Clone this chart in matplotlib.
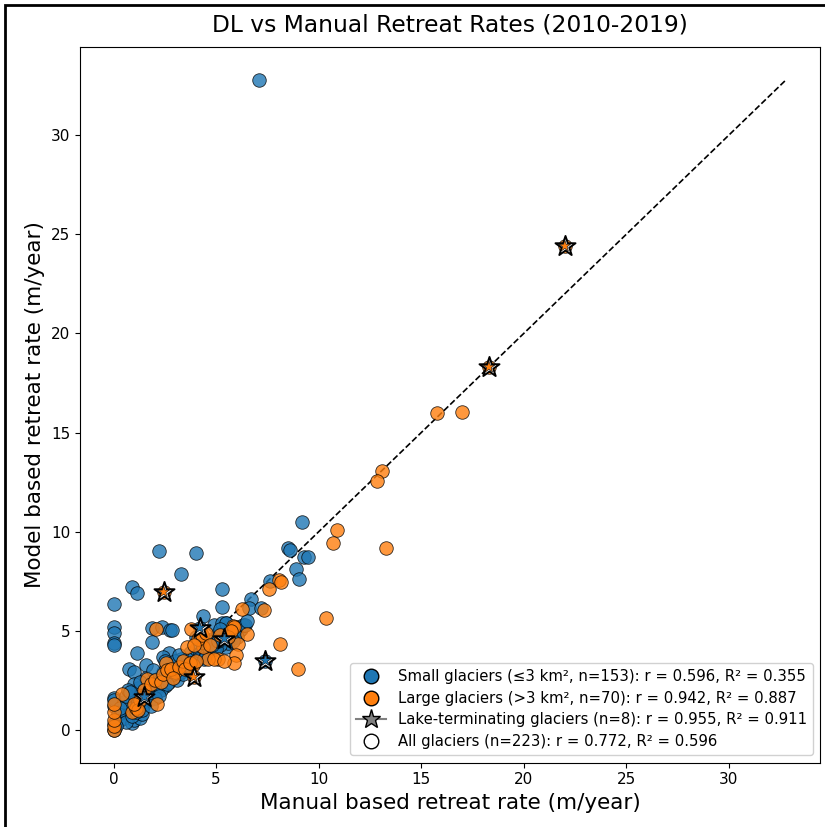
import matplotlib
matplotlib.use("Agg")
import matplotlib.pyplot as plt
from matplotlib.lines import Line2D
from matplotlib.patches import Rectangle
import numpy as np

# ---- Data ----
small_x = [7.07, 9.17, 8.5, 8.6, 9.3, 9.5, 8.9, 9.05, 2.2, 4.0, 3.27, 0.88, 1.12, 0.0, 5.27, 5.27,
           7.6, 6.7, 6.6, 7.2, 0.0, 0.0, 0.0, 0.0, 1.85, 2.35, 2.73, 2.83, 1.85, 1.12, 0.73, 0.98,
           1.56, 2.68, 2.4, 4.35, 5.46, 5.5, 0.0, 0.0, 0.0, 0.0, 0.0, 0.3, 0.5, 0.6, 0.88, 1.0,
           1.27, 1.4, 0.7, 0.9, 1.1, 1.2, 1.5, 1.6, 1.8, 2.0, 2.1, 1.9, 2.2, 2.5, 2.6, 2.8,
           3.0, 2.9, 3.2, 3.4, 3.3, 3.6, 3.7, 3.9, 4.0, 4.2, 4.4, 4.6, 4.8, 5.0, 5.1, 5.3,
           5.5, 5.6, 5.8, 6.0, 6.1, 4.9, 5.3, 5.5, 1.5, 4.2, 5.4, 7.4, 0.2, 0.4, 0.6, 0.8,
           1.3, 1.7, 2.3, 2.7, 3.1, 3.5, 3.8, 4.1, 4.5, 4.7, 5.2, 5.7, 6.2, 6.3, 0.5, 0.9,
           1.0, 1.4, 1.6, 2.0, 2.4, 2.9, 3.3, 3.6, 4.3, 4.9, 5.9, 6.4, 0.1, 0.3, 0.6, 1.2,
           1.8, 2.6, 3.0, 3.4, 3.9, 4.6, 5.0, 5.6, 6.0, 0.7, 1.1, 1.3, 2.2, 2.5, 3.7, 4.4,
           4.8, 5.2, 5.8, 0.8, 1.9, 3.2, 4.0, 5.1, 6.5]
small_y = [32.8, 10.5, 9.2, 9.1, 8.7, 8.7, 8.1, 7.6, 9.0, 8.9, 7.85, 7.2, 6.9, 6.35, 7.1, 6.2,
           7.5, 6.6, 6.15, 6.15, 5.2, 4.9, 4.4, 4.3, 5.15, 5.2, 5.04, 5.02, 4.45, 3.9, 3.1, 2.9,
           3.3, 3.9, 3.7, 5.75, 5.4, 4.2, 0.0, 0.3, 1.2, 1.6, 1.5, 0.5, 0.6, 0.9, 0.35, 0.5,
           0.6, 0.8, 1.3, 1.6, 1.8, 2.1, 1.3, 1.8, 2.0, 1.9, 2.2, 2.5, 2.6, 2.2, 2.6, 2.9,
           2.7, 3.2, 3.0, 3.3, 3.6, 3.5, 3.9, 3.7, 4.1, 3.9, 4.4, 4.2, 4.6, 4.5, 4.9, 4.7,
           5.0, 4.4, 4.9, 5.2, 5.0, 5.3, 5.4, 5.4, 1.66, 5.15, 4.6, 3.5, 0.8, 1.0, 0.4, 1.1,
           1.2, 1.5, 2.0, 2.4, 2.5, 3.0, 3.4, 3.6, 3.8, 4.0, 4.3, 4.6, 5.1, 5.3, 1.4, 0.7,
           2.3, 1.0, 2.6, 1.6, 2.9, 2.8, 2.9, 3.3, 4.6, 4.1, 5.1, 5.3, 0.2, 1.1, 1.7, 1.4,
           1.2, 2.3, 3.5, 2.8, 3.4, 4.5, 4.1, 4.9, 4.7, 2.0, 0.9, 2.4, 1.7, 3.5, 3.2, 3.6,
           4.3, 5.1, 4.5, 1.9, 3.0, 3.8, 4.7, 4.5, 5.5]

large_x = [15.75, 17.0, 13.07, 12.83, 10.9, 10.7, 13.3, 10.35, 8.1, 9.0, 8.06, 8.15, 7.56, 7.35,
           6.25, 6.5, 6.05, 5.95, 5.85, 5.1, 4.6, 4.35, 3.85, 2.55, 3.0, 1.65, 2.1, 3.76, 2.05,
           5.8, 5.85, 0.39, 0.0, 0.0, 0.0, 0.0, 0.0, 2.44, 3.9, 18.3, 22.0, 0.9, 1.1, 1.3,
           1.2, 1.5, 1.8, 2.0, 2.3, 2.4, 2.6, 2.8, 3.2, 3.4, 3.5, 3.7, 4.0, 4.1, 4.3, 4.5,
           4.7, 4.9, 5.2, 5.4, 5.6, 5.7, 3.6, 3.9, 2.9, 1.0]
large_y = [16.0, 16.05, 13.06, 12.56, 10.1, 9.43, 9.2, 5.65, 4.34, 3.1, 7.56, 7.46, 7.1, 6.05,
           6.1, 4.85, 4.35, 3.8, 3.4, 3.6, 3.6, 4.2, 3.3, 3.4, 2.9, 2.55, 1.3, 5.1, 5.1,
           5.25, 5.2, 1.8, 0.0, 0.2, 0.5, 0.9, 1.3, 6.96, 2.67, 18.3, 24.4, 0.9, 1.1, 1.5,
           1.0, 2.0, 2.3, 2.5, 2.4, 2.8, 3.0, 3.1, 3.2, 3.5, 3.1, 3.4, 3.5, 4.6, 4.8, 4.9,
           4.3, 3.6, 4.8, 3.5, 4.7, 5.0, 4.2, 4.3, 2.6, 1.3]

lake_x = [1.5, 3.9, 2.44, 4.2, 5.4, 7.4, 18.3, 22.0]
lake_y = [1.66, 2.67, 6.96, 5.15, 4.6, 3.5, 18.3, 24.4]
lake_is_large = [False, True, True, False, False, False, True, True]

legend_labels = [
    "Small glaciers (\u22643 km\u00b2, n=153): r = 0.596, R\u00b2 = 0.355",
    "Large glaciers (>3 km\u00b2, n=70): r = 0.942, R\u00b2 = 0.887",
    "Lake-terminating glaciers (n=8): r = 0.955, R\u00b2 = 0.911",
    "All glaciers (n=223): r = 0.772, R\u00b2 = 0.596",
]

BLUE = "#1f77b4"
ORANGE = "#ff7f0e"

fig = plt.figure(figsize=(8.25, 8.27), dpi=100)
ax = fig.add_axes([80 / 825, 1 - 762.5 / 827, (820 - 80) / 825, (762.5 - 47) / 827])

ax.scatter(small_x, small_y, s=95, c=BLUE, alpha=0.8, edgecolors="black", linewidths=0.6, zorder=2)
ax.scatter(large_x, large_y, s=95, c=ORANGE, alpha=0.8, edgecolors="black", linewidths=0.6, zorder=3)

lake_cols = [ORANGE if f else BLUE for f in lake_is_large]
ax.scatter(lake_x, lake_y, s=230, marker="*", c="white", edgecolors="black", linewidths=1.4, zorder=4)
ax.scatter(lake_x, lake_y, s=75, marker="*", c=lake_cols, edgecolors="black", linewidths=0.4, zorder=5)

all_vals = small_x + small_y + large_x + large_y
m = max(all_vals)
ax.plot([0, m], [0, m], "k--", lw=1.2, zorder=1)
ax.set_xlim(-0.05 * m, 1.05 * m)
ax.set_ylim(-0.05 * m, 1.05 * m)

ax.set_xticks([0, 5, 10, 15, 20, 25, 30])
ax.set_yticks([0, 5, 10, 15, 20, 25, 30])
ax.tick_params(labelsize=11)
ax.set_xlabel("Manual based retreat rate (m/year)", fontsize=15.5)
ax.set_ylabel("Model based retreat rate (m/year)", fontsize=15.5)
ax.set_title("DL vs Manual Retreat Rates (2010-2019)", fontsize=16.8, pad=11)

handles = [
    Line2D([], [], marker="o", ls="none", markersize=10.5, markerfacecolor=BLUE, markeredgecolor="black"),
    Line2D([], [], marker="o", ls="none", markersize=10.5, markerfacecolor=ORANGE, markeredgecolor="black"),
    Line2D([], [], marker="*", color="gray", markersize=14, markerfacecolor="gray",
           markeredgecolor="black", lw=1.5),
    Line2D([], [], marker="o", ls="none", markersize=10.5, markerfacecolor="white", markeredgecolor="black"),
]
ax.legend(handles, legend_labels, loc="lower right", fontsize=10.7, framealpha=0.9,
          labelspacing=0.45)

# figure frame (left and top visible)
fig.add_artist(Rectangle((5 / 825, -0.5), 2.0, 1.5 - 5 / 827, transform=fig.transFigure,
                         fill=False, edgecolor="black", lw=2.0))

fig.savefig("out.png", dpi=100)
